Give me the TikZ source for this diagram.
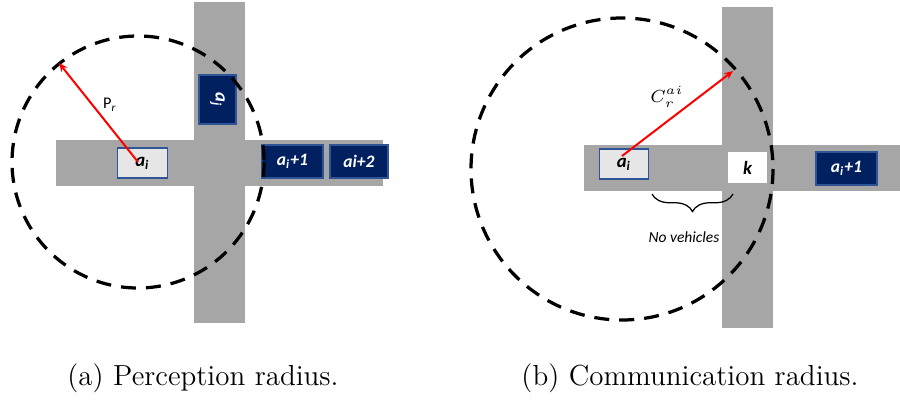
\documentclass[tikz,border=0pt]{standalone}
\usepackage{fontspec}
\newfontfamily\calfont{Carlito}
\usetikzlibrary{arrows.meta,decorations.pathreplacing}
\definecolor{roadgray}{HTML}{A6A6A6}
\definecolor{carnavy}{HTML}{002060}
\definecolor{carline}{HTML}{2F5597}
\definecolor{egogray}{HTML}{E7E6E6}
\begin{document}
\begin{tikzpicture}[%
      x=0.4pt,y=-0.4pt,
      road/.style={fill=roadgray},
      ego/.style={rectangle,draw=carline,fill=egogray,line width=0.5pt,inner sep=0pt,minimum width=19.8pt,minimum height=12pt,font=\calfont\bfseries\itshape\fontsize{7.5}{9}\selectfont},
      other/.style={rectangle,draw=carline,fill=carnavy,text=white,line width=0.5pt,inner sep=0pt,minimum width=24.4pt,minimum height=13.2pt,font=\calfont\bfseries\itshape\fontsize{7}{9}\selectfont},
      free/.style={rectangle,fill=white,inner sep=0pt,minimum width=15.6pt,minimum height=12.4pt,font=\calfont\bfseries\itshape\fontsize{7.5}{9}\selectfont},
      senseline/.style={line width=1.3pt,dash pattern=on 6pt off 4pt},
      radarrow/.style={red,line width=0.8pt,-{Stealth[length=3.5pt,width=3pt]}},
      note/.style={font=\calfont\fontsize{6.2}{8}\selectfont},
      caption/.style={font=\fontsize{11.6}{14}\selectfont}
      ]
      \useasboundingbox (0,0) rectangle (900,400);
      \fill[road] (56,140) rectangle (383,186);
      \fill[road] (194,2) rectangle (245,323);
      \draw (142.5,163) node[ego] (ai) {a\textsubscript{i}};
      \draw (217.5,99.5) node[other,minimum width=14.8pt,minimum height=19.6pt] (aj) {};
      \draw (aj.center) node[rotate=-90,text=white,font=\calfont\bfseries\itshape\fontsize{7.5}{9}\selectfont] (ajtext) {a\textsubscript{j}};
      \draw (292.5,161.5) node[other] (ai1) {a\textsubscript{i}+1};
      \draw (359,161.5) node[other,minimum width=23.2pt] (ai2) {ai+2};
      \coordinate (o1) at (138,162);
      \coordinate (p1) at (59,63);
      \draw[senseline] (o1) circle (126);
      \draw[radarrow] (o1) -- (p1);
      \draw (110,105) node[note,font=\calfont\fontsize{6.5}{8}\selectfont] (pr) {P\textsubscript{\itshape r}};
      \draw (203,378) node[caption] (capa) {(a) Perception radius.};

      \fill[road] (584,145) rectangle (900,191);
      \fill[road] (722,7) rectangle (773,328);
      \draw (624,164) node[ego] (bi) {a\textsubscript{i}};
      \draw (747.5,167.5) node[free] (k) {k};
      \draw (846.5,168.5) node[other] (bi1) {a\textsubscript{i}+1};
      \coordinate (o2) at (622,169);
      \coordinate (s2) at (622,156);
      \coordinate (p2) at (733,71);
      \draw[senseline] (o2) circle (151);
      \draw[radarrow] (s2) -- (p2);
      \draw (667,97) node[font=\fontsize{7}{8}\selectfont] (cr) {$C_r^{ai}$};
      \coordinate (b1) at (652,194);
      \coordinate (b2) at (733,194);
      \draw[line width=0.5pt,decorate,decoration={brace,amplitude=7pt,mirror}] (b1) -- (b2);
      \draw (684,237) node[note,font=\calfont\itshape\fontsize{6.2}{8}\selectfont] (nv) {No vehicles};
      \draw (690,378) node[caption] (capb) {(b) Communication radius.};
    \end{tikzpicture}
\end{document}
